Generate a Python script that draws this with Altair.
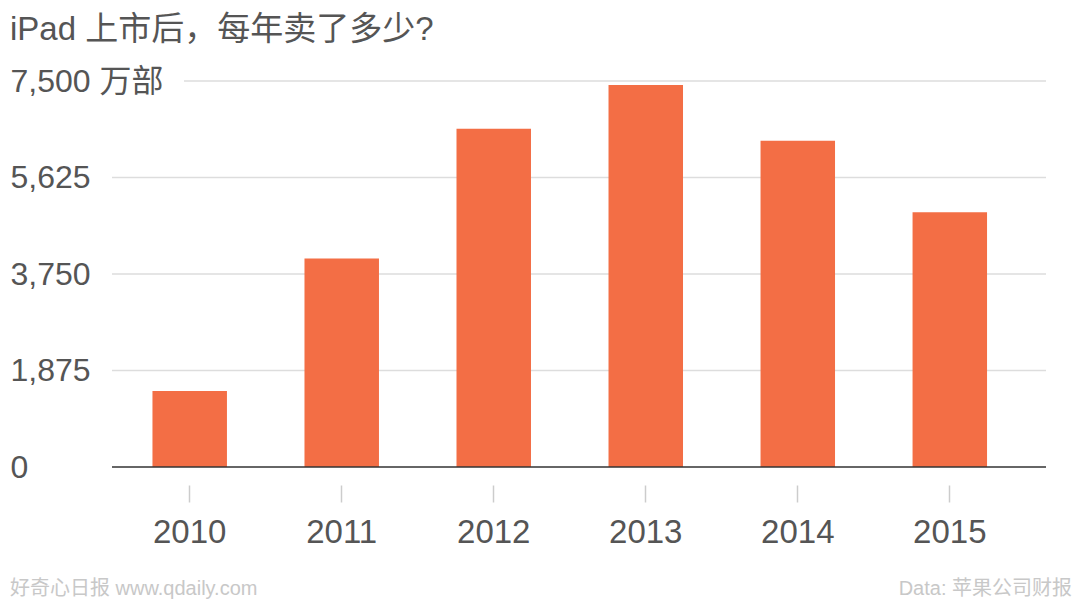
import altair as alt
import pandas as pd

years = ["2010", "2011", "2012", "2013", "2014", "2015"]
sales = [1479, 4050, 6570, 7420, 6340, 4950]
y_ticks = [0, 1875, 3750, 5625, 7500]
grid_vals = [1875, 3750, 5625]
top_grid = [7500]
title_text = ["iPad 上市后，每年卖了多少?"]
footer_left = ["好奇心日报 www.qdaily.com"]
footer_right = ["Data: 苹果公司财报"]

FONT = "Liberation Sans, Arial, Noto Sans CJK SC"
W, H = 934, 386

df = pd.DataFrame({"year": years, "sales": sales})

x_scale = alt.Scale(domain=years, paddingInner=0.51, paddingOuter=0.327, align=0.407)
y_scale = alt.Scale(domain=[0, 7500], nice=False)

y_axis = alt.Axis(title=None, domain=False, ticks=False, tickSize=0, grid=False,
                  values=y_ticks, format=",d", labelAlign="left",
                  labelPadding=102, labelFontSize=32, labelColor="#555555",
                  labelFont=FONT, labelBaseline="middle",
                  labelExpr="datum.value == 7500 ? '7,500 万部' : format(datum.value, ',d')")

bars = alt.Chart(df).mark_bar(color="#f36e45").encode(
    x=alt.X("year:N", scale=x_scale, sort=years,
            axis=alt.Axis(title=None, domain=False, ticks=True, tickSize=17,
                          tickColor="#cccccc", tickWidth=1.5, offset=18,
                          labelFontSize=33, labelColor="#555555", labelPadding=14,
                          labelFont=FONT, labelAngle=0)),
    y=alt.Y("sales:Q", scale=y_scale, axis=y_axis),
)

grid = alt.Chart(pd.DataFrame({"sales": grid_vals})).mark_rule(
    color="#dddddd", strokeWidth=1.5
).encode(y=alt.Y("sales:Q", scale=y_scale, axis=y_axis), x=alt.value(0), x2=alt.value(W))

grid_top = alt.Chart(pd.DataFrame({"sales": top_grid})).mark_rule(
    color="#dddddd", strokeWidth=1.5
).encode(y=alt.Y("sales:Q", scale=y_scale, axis=y_axis), x=alt.value(72), x2=alt.value(W))

baseline = alt.Chart(pd.DataFrame({"sales": [0]})).mark_rule(
    color="#333333", strokeWidth=1.5
).encode(y=alt.Y("sales:Q", scale=y_scale, axis=y_axis), x=alt.value(0), x2=alt.value(W))

title = alt.Chart(pd.DataFrame({"t": title_text})).mark_text(
    align="left", baseline="alphabetic", fontSize=33, color="#555555", font=FONT
).encode(text="t:N", x=alt.value(-102), y=alt.value(-41))

fl = alt.Chart(pd.DataFrame({"t": footer_left})).mark_text(
    align="left", baseline="alphabetic", fontSize=20, color="#c8c8c8", font=FONT
).encode(text="t:N", x=alt.value(-102), y=alt.value(514))

fr = alt.Chart(pd.DataFrame({"t": footer_right})).mark_text(
    align="right", baseline="alphabetic", fontSize=20, color="#c8c8c8", font=FONT
).encode(text="t:N", x=alt.value(960), y=alt.value(514))

chart = alt.layer(grid, grid_top, bars, baseline, title, fl, fr).properties(
    width=W, height=H,
    autosize=alt.AutoSizeParams(type="none"),
    padding={"left": 104, "top": 73, "right": 26, "bottom": 133},
).configure(font=FONT, background="white").configure_view(stroke=None, strokeWidth=0)

chart.save("out.html", embed_options={"renderer": "svg", "actions": False})
